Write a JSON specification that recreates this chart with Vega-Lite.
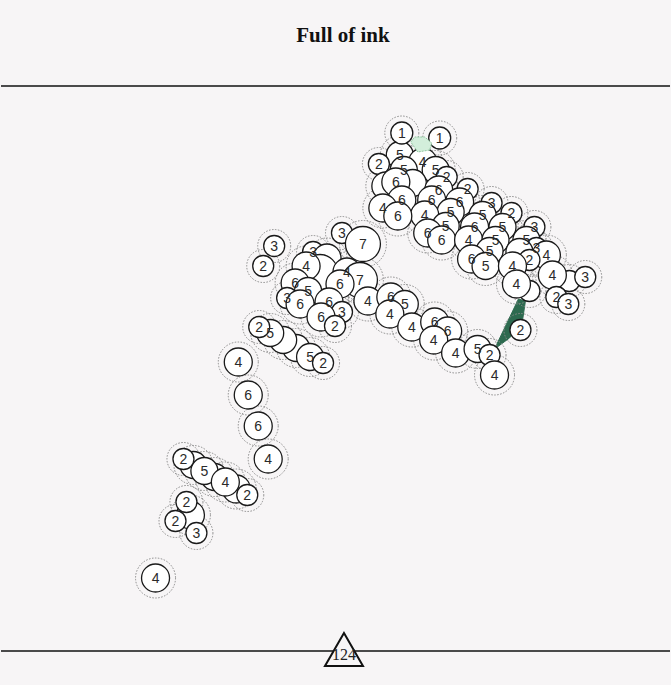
{
  "$schema": "https://vega.github.io/schema/vega-lite/v6.json",
  "width": 671,
  "height": 685,
  "autosize": {"type": "fit", "contains": "padding"},
  "padding": 0,
  "background": "#f7f5f6",
  "config": {"view": {"stroke": null}},
  "datasets": {
    "circles": [
      {"x": 400, "y": 155, "n": 5, "label": "5"},
      {"x": 423, "y": 162, "n": 4, "label": "4"},
      {"x": 379, "y": 164, "n": 2, "label": "2"},
      {"x": 404, "y": 170, "n": 5, "label": "5"},
      {"x": 402, "y": 133, "n": 1, "label": "1"},
      {"x": 440, "y": 138, "n": 1, "label": "1"},
      {"x": 436, "y": 170, "n": 5, "label": "5"},
      {"x": 447, "y": 177, "n": 2, "label": "2"},
      {"x": 413, "y": 183, "n": 5, "label": ""},
      {"x": 386, "y": 186, "n": 6, "label": ""},
      {"x": 396, "y": 182, "n": 6, "label": "6"},
      {"x": 468, "y": 189, "n": 2, "label": "2"},
      {"x": 439, "y": 190, "n": 6, "label": "6"},
      {"x": 460, "y": 202, "n": 6, "label": "6"},
      {"x": 492, "y": 203, "n": 3, "label": "3"},
      {"x": 402, "y": 200, "n": 6, "label": "6"},
      {"x": 432, "y": 200, "n": 6, "label": "6"},
      {"x": 383, "y": 208, "n": 4, "label": "4"},
      {"x": 451, "y": 212, "n": 5, "label": "5"},
      {"x": 483, "y": 215, "n": 5, "label": "5"},
      {"x": 512, "y": 213, "n": 2, "label": "2"},
      {"x": 425, "y": 215, "n": 4, "label": "4"},
      {"x": 398, "y": 216, "n": 6, "label": "6"},
      {"x": 446, "y": 226, "n": 5, "label": "5"},
      {"x": 475, "y": 227, "n": 6, "label": "6"},
      {"x": 503, "y": 227, "n": 5, "label": "5"},
      {"x": 535, "y": 227, "n": 3, "label": "3"},
      {"x": 428, "y": 233, "n": 6, "label": "6"},
      {"x": 442, "y": 240, "n": 6, "label": "6"},
      {"x": 469, "y": 240, "n": 4, "label": "4"},
      {"x": 496, "y": 240, "n": 5, "label": "5"},
      {"x": 527, "y": 240, "n": 5, "label": "5"},
      {"x": 537, "y": 248, "n": 3, "label": "3"},
      {"x": 547, "y": 255, "n": 4, "label": "4"},
      {"x": 490, "y": 251, "n": 5, "label": "5"},
      {"x": 520, "y": 252, "n": 5, "label": ""},
      {"x": 472, "y": 259, "n": 6, "label": "6"},
      {"x": 530, "y": 260, "n": 2, "label": "2"},
      {"x": 486, "y": 266, "n": 5, "label": "5"},
      {"x": 513, "y": 266, "n": 4, "label": "4"},
      {"x": 570, "y": 281, "n": 3, "label": ""},
      {"x": 553, "y": 275, "n": 4, "label": "4"},
      {"x": 586, "y": 277, "n": 3, "label": "3"},
      {"x": 530, "y": 291, "n": 2, "label": ""},
      {"x": 517, "y": 284, "n": 4, "label": "4"},
      {"x": 557, "y": 297, "n": 2, "label": "2"},
      {"x": 569, "y": 304, "n": 3, "label": "3"},
      {"x": 521, "y": 330, "n": 2, "label": "2"},
      {"x": 342, "y": 233, "n": 3, "label": "3"},
      {"x": 363, "y": 244, "n": 7, "label": "7"},
      {"x": 274, "y": 246, "n": 3, "label": "3"},
      {"x": 263, "y": 266, "n": 2, "label": "2"},
      {"x": 313, "y": 252, "n": 3, "label": "3"},
      {"x": 327, "y": 258, "n": 6, "label": ""},
      {"x": 320, "y": 272, "n": 7, "label": ""},
      {"x": 306, "y": 266, "n": 4, "label": "4"},
      {"x": 347, "y": 272, "n": 4, "label": "4"},
      {"x": 360, "y": 280, "n": 7, "label": "7"},
      {"x": 340, "y": 284, "n": 6, "label": "6"},
      {"x": 295, "y": 283, "n": 6, "label": "6"},
      {"x": 308, "y": 291, "n": 5, "label": "5"},
      {"x": 287, "y": 298, "n": 3, "label": "3"},
      {"x": 300, "y": 304, "n": 6, "label": "6"},
      {"x": 329, "y": 302, "n": 6, "label": "6"},
      {"x": 342, "y": 312, "n": 3, "label": "3"},
      {"x": 321, "y": 317, "n": 6, "label": "6"},
      {"x": 335, "y": 326, "n": 2, "label": "2"},
      {"x": 368, "y": 301, "n": 4, "label": "4"},
      {"x": 391, "y": 297, "n": 6, "label": "6"},
      {"x": 405, "y": 304, "n": 5, "label": "5"},
      {"x": 390, "y": 314, "n": 4, "label": "4"},
      {"x": 412, "y": 327, "n": 4, "label": "4"},
      {"x": 435, "y": 322, "n": 6, "label": "6"},
      {"x": 448, "y": 331, "n": 6, "label": "6"},
      {"x": 434, "y": 340, "n": 4, "label": "4"},
      {"x": 456, "y": 353, "n": 4, "label": "4"},
      {"x": 478, "y": 349, "n": 5, "label": "5"},
      {"x": 490, "y": 355, "n": 2, "label": "2"},
      {"x": 495, "y": 375, "n": 4, "label": "4"},
      {"x": 296, "y": 348, "n": 5, "label": ""},
      {"x": 283, "y": 340, "n": 5, "label": ""},
      {"x": 270, "y": 333, "n": 5, "label": "5"},
      {"x": 259, "y": 327, "n": 2, "label": "2"},
      {"x": 310, "y": 357, "n": 5, "label": "5"},
      {"x": 323, "y": 363, "n": 2, "label": "2"},
      {"x": 238, "y": 362, "n": 4, "label": "4"},
      {"x": 248, "y": 395, "n": 6, "label": "6"},
      {"x": 258, "y": 426, "n": 6, "label": "6"},
      {"x": 268, "y": 459, "n": 4, "label": "4"},
      {"x": 193, "y": 465, "n": 5, "label": ""},
      {"x": 214, "y": 477, "n": 5, "label": ""},
      {"x": 236, "y": 489, "n": 4, "label": ""},
      {"x": 204, "y": 471, "n": 5, "label": "5"},
      {"x": 183, "y": 459, "n": 2, "label": "2"},
      {"x": 225, "y": 482, "n": 4, "label": "4"},
      {"x": 247, "y": 495, "n": 2, "label": "2"},
      {"x": 190, "y": 515, "n": 4, "label": ""},
      {"x": 186, "y": 502, "n": 2, "label": "2"},
      {"x": 196, "y": 533, "n": 3, "label": "3"},
      {"x": 175, "y": 521, "n": 2, "label": "2"},
      {"x": 155, "y": 578, "n": 4, "label": "4"}
    ],
    "shapes": [
      {"id": "a", "i": 0, "x": 411, "y": 142},
      {"id": "a", "i": 1, "x": 415, "y": 137},
      {"id": "a", "i": 2, "x": 425, "y": 137},
      {"id": "a", "i": 3, "x": 432, "y": 143},
      {"id": "a", "i": 4, "x": 430, "y": 150},
      {"id": "a", "i": 5, "x": 418, "y": 152},
      {"id": "a", "i": 6, "x": 411, "y": 142}
    ],
    "dark": [
      {"id": "b", "i": 0, "x": 519, "y": 299},
      {"id": "b", "i": 1, "x": 526, "y": 301},
      {"id": "b", "i": 2, "x": 523, "y": 321},
      {"id": "b", "i": 3, "x": 510, "y": 338},
      {"id": "b", "i": 4, "x": 495, "y": 349},
      {"id": "b", "i": 5, "x": 519, "y": 299}
    ]
  },
  "encoding": {
    "x": {"field": "x", "type": "quantitative", "scale": {"domain": [0, 671], "nice": false, "zero": false}, "axis": null},
    "y": {"field": "y", "type": "quantitative", "scale": {"domain": [0, 685], "nice": false, "zero": false, "reverse": true}, "axis": null}
  },
  "layer": [
    {
      "data": {"values": [{"x": 0, "x2": 671, "y": 86}, {"x": 0, "x2": 671, "y": 651}]},
      "mark": {"type": "rule", "color": "#111", "strokeWidth": 1.6},
      "encoding": {"x2": {"field": "x2"}}
    },
    {
      "data": {"values": [{"x": 343, "y": 36, "t": "Full of ink"}]},
      "mark": {"type": "text", "font": "Liberation Serif", "fontWeight": "bold", "fontSize": 21, "color": "#111", "baseline": "middle", "align": "center"},
      "encoding": {"text": {"field": "t"}}
    },
    {
      "data": {"name": "dark"},
      "mark": {"type": "line", "fill": "#2d6a4f", "stroke": "#2d6a4f", "strokeWidth": 1},
      "encoding": {"order": {"field": "i"}, "detail": {"field": "id"}}
    },
    {
      "data": {"name": "circles"},
      "mark": {"type": "point", "shape": "circle", "filled": false, "stroke": "#8a8a8a", "strokeWidth": 1, "strokeDash": [1.5, 1.5], "opacity": 1},
      "encoding": {
        "size": {"field": "n", "type": "quantitative", "scale": {"type": "threshold", "domain": [1.5, 2.5, 3.5, 4.5, 5.5, 6.5], "range": [1156, 1089, 1089, 1600, 1521, 1600, 2209]}, "legend": null}
      }
    },
    {
      "data": {"name": "circles"},
      "mark": {"type": "point", "shape": "circle", "filled": true, "fill": "#ffffff", "stroke": "#1a1a1a", "strokeWidth": 1.3, "opacity": 1, "fillOpacity": 1, "strokeOpacity": 1},
      "encoding": {
        "size": {"field": "n", "type": "quantitative", "scale": {"type": "threshold", "domain": [1.5, 2.5, 3.5, 4.5, 5.5, 6.5], "range": [484, 441, 441, 784, 729, 784, 1225]}, "legend": null}
      }
    },
    {
      "data": {"name": "shapes"},
      "mark": {"type": "line", "fill": "#d3eedb", "stroke": "#8fc7a0", "strokeWidth": 1, "strokeDash": [2, 1]},
      "encoding": {"order": {"field": "i"}, "detail": {"field": "id"}}
    },
    {
      "data": {"name": "circles"},
      "mark": {"type": "text", "font": "Liberation Sans", "fontSize": 14, "color": "#2a2a2a", "baseline": "middle", "align": "center", "dy": 1},
      "encoding": {"text": {"field": "label"}}
    },
    {
      "data": {"values": [{"x": 344, "y": 649.5}]},
      "mark": {"type": "point", "shape": "triangle-up", "size": 1444, "filled": true, "fill": "#f7f5f6", "stroke": "#111", "strokeWidth": 2, "opacity": 1}
    },
    {
      "data": {"values": [{"x": 344, "y": 655, "t": "124"}]},
      "mark": {"type": "text", "font": "Liberation Serif", "fontSize": 16, "color": "#222", "baseline": "middle", "align": "center"},
      "encoding": {"text": {"field": "t"}}
    }
  ],
  "resolve": {"scale": {"size": "independent"}}
}
